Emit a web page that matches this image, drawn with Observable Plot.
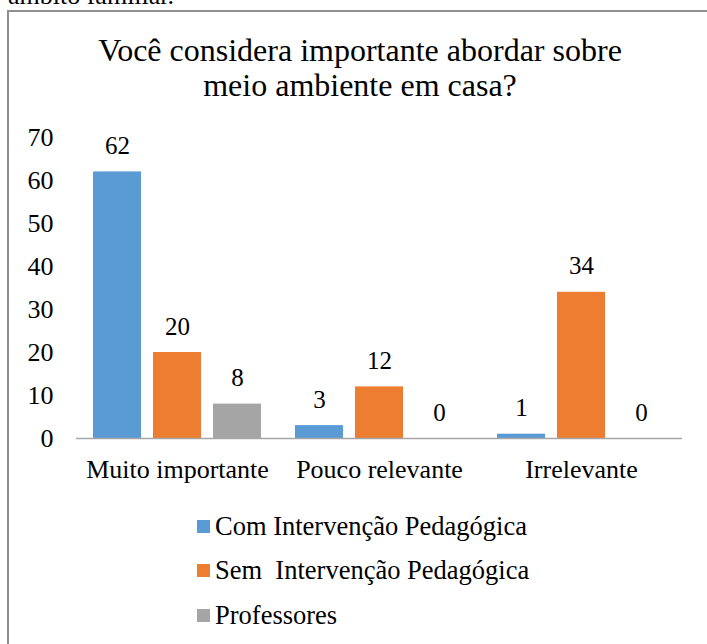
<!DOCTYPE html>
<html>
<head>
<meta charset="utf-8">
<script src="https://cdn.jsdelivr.net/npm/d3@7"></script>
<script src="https://cdn.jsdelivr.net/npm/@observablehq/plot@0.6"></script>
<style>
  html, body { margin: 0; padding: 0; background: #fff; overflow: hidden; }
  body { width: 707px; height: 644px; position: relative; font-family: "Liberation Serif", "Times New Roman", serif; color: #000; }
  .cut { position: absolute; left: 8px; top: -17px; font-size: 26px; line-height: 26px; white-space: nowrap; }
  .box { position: absolute; left: 7px; top: 10px; width: 800px; height: 700px; border-left: 2px solid #8f8f8f; border-top: 2px solid #8f8f8f; }
  .title { position: absolute; left: 0; top: 33px; width: 720px; text-align: center; font-size: 32px; line-height: 35px; }
  #chart { position: absolute; left: 0; top: 120px; }
  .legend { position: absolute; left: 197px; top: 504px; }
  .row { display: flex; align-items: center; height: 44.5px; font-size: 26.5px; white-space: pre; }
  .sw { width: 13px; height: 13px; margin-right: 5px; flex: none; }
</style>
</head>
<body>
<div class="cut">âmbito familiar.</div>
<div class="box"></div>
<div class="title">Você considera importante abordar sobre<br>meio ambiente em casa?</div>
<div id="chart"></div>
<div class="legend" id="legend"></div>
<script>
const categories = ["Muito importante", "Pouco relevante", "Irrelevante"];
const series = ["Com Intervenção Pedagógica", "Sem  Intervenção Pedagógica", "Professores"];
const comIntervencao = [62, 3, 1];
const semIntervencao = [20, 12, 34];
const professores = [8, 0, 0];
const colors = ["#5B9BD5", "#ED7D31", "#A5A5A5"];
const yTicks = [0, 10, 20, 30, 40, 50, 60, 70];

const seriesValues = [comIntervencao, semIntervencao, professores];
const data = [];
categories.forEach((cat, i) => {
  series.forEach((s, j) => {
    data.push({cat, series: s, value: seriesValues[j][i]});
  });
});

const chart = Plot.plot({
  width: 707,
  height: 370,
  marginLeft: 76,
  marginRight: 25,
  marginTop: 17,
  marginBottom: 52,
  style: {fontFamily: "'Liberation Serif', 'Times New Roman', serif", fontSize: "26px", color: "#000", background: "transparent", overflow: "visible"},
  fx: {domain: categories, padding: 0, label: null, tickSize: 0, tickPadding: 21, axis: "bottom"},
  x: {domain: series, axis: null, paddingInner: 0.2, paddingOuter: 0.283},
  y: {domain: [0, 70], ticks: yTicks, tickSize: 0, tickPadding: 23, label: null},
  color: {domain: series, range: colors},
  marks: [
    Plot.barY(data, {fx: "cat", x: "series", y: "value", fill: "series"}),
    Plot.ruleY([0], {stroke: "#a6a6a6", strokeWidth: 1.5}),
    Plot.text(data, {fx: "cat", x: "series", y: "value", text: d => String(d.value), dy: -18, lineAnchor: "bottom", fontSize: 25, fill: "#000"})
  ]
});
document.getElementById("chart").appendChild(chart);

const legend = document.getElementById("legend");
series.forEach((s, i) => {
  const row = document.createElement("div");
  row.className = "row";
  const sw = document.createElement("span");
  sw.className = "sw";
  sw.style.background = colors[i];
  const label = document.createElement("span");
  label.textContent = s;
  row.appendChild(sw);
  row.appendChild(label);
  legend.appendChild(row);
});
</script>
</body>
</html>
